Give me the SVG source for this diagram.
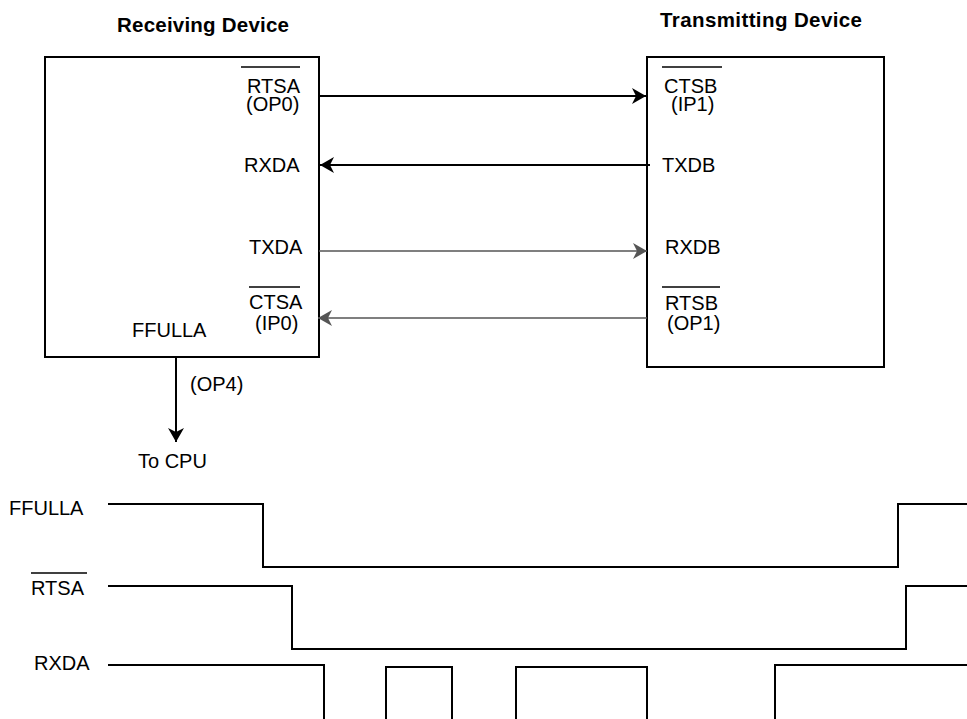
<svg xmlns="http://www.w3.org/2000/svg" width="967" height="719" viewBox="0 0 967 719">
<style>
.t{font-family:"Liberation Sans",Arial,sans-serif;font-size:20px;fill:#000}
.b{font-family:"Liberation Sans",Arial,sans-serif;font-size:20.5px;font-weight:bold;fill:#000}
.box{fill:#fff;stroke:#000;stroke-width:2}
.ov{stroke:#000;stroke-width:1.5}
.k{stroke:#000;stroke-width:2;fill:none}
.g{stroke:#555;stroke-width:1.6;fill:none}
.sig{stroke:#000;stroke-width:2;fill:none;stroke-linejoin:miter}
</style>
<defs>
<marker id="ak" markerUnits="userSpaceOnUse" markerWidth="16" markerHeight="18" refX="14" refY="8" orient="auto" viewBox="0 0 16 16">
<path d="M0,0 L14,8 L0,16 L4,8 Z" fill="#000"/>
</marker>
<marker id="ag" markerUnits="userSpaceOnUse" markerWidth="16" markerHeight="18" refX="14" refY="8" orient="auto" viewBox="0 0 16 16">
<path d="M0,0 L14,8 L0,16 L4,8 Z" fill="#555"/>
</marker>
</defs>
<rect width="967" height="719" fill="#fff"/>

<g id="receiving-device">
<text class="b" x="117" y="32" textLength="172">Receiving Device</text>
<rect class="box" x="45" y="57" width="274" height="300"/>
<line class="ov" x1="241" y1="67" x2="300" y2="67"/>
<text class="t" x="247" y="93">RTSA</text>
<text class="t" x="246" y="111">(OP0)</text>
<text class="t" x="244" y="172">RXDA</text>
<text class="t" x="249" y="254">TXDA</text>
<line class="ov" x1="249" y1="287" x2="300" y2="287"/>
<text class="t" x="249" y="309">CTSA</text>
<text class="t" x="255" y="330">(IP0)</text>
<text class="t" x="132" y="337">FFULLA</text>
</g>

<g id="transmitting-device">
<text class="b" x="660" y="27" textLength="202">Transmitting Device</text>
<rect class="box" x="647" y="57" width="237" height="310"/>
<line class="ov" x1="662" y1="67" x2="722" y2="67"/>
<text class="t" x="664" y="93">CTSB</text>
<text class="t" x="671" y="111">(IP1)</text>
<text class="t" x="662" y="172">TXDB</text>
<text class="t" x="665" y="254">RXDB</text>
<line class="ov" x1="662" y1="287" x2="720" y2="287"/>
<text class="t" x="665" y="310">RTSB</text>
<text class="t" x="667" y="330">(OP1)</text>
</g>

<g id="cpu-output">
<text class="t" x="190" y="391">(OP4)</text>
<text class="t" x="138" y="468">To CPU</text>
</g>

<g id="connectors">
<line class="k" x1="319" y1="96" x2="646" y2="96" marker-end="url(#ak)"/>
<line class="k" x1="650" y1="165" x2="320" y2="165" marker-end="url(#ak)"/>
<line class="g" x1="319" y1="251" x2="647" y2="251" marker-end="url(#ag)"/>
<line class="g" x1="647" y1="318" x2="318" y2="318" marker-end="url(#ag)"/>
<line class="k" x1="176" y1="357" x2="176" y2="442" marker-end="url(#ak)"/>
</g>

<g id="timing">
<text class="t" x="9" y="515">FFULLA</text>
<line class="ov" x1="31" y1="573" x2="87" y2="573"/>
<text class="t" x="31" y="595">RTSA</text>
<text class="t" x="34" y="670">RXDA</text>
<polyline class="sig" points="108,504 263,504 263,567 898,567 898,504 967,504"/>
<polyline class="sig" points="108,586 292,586 292,649 906,649 906,586 967,586"/>
<polyline class="sig" points="108,665 324,665 324,720"/>
<polyline class="sig" points="386,720 386,667 452,667 452,720"/>
<polyline class="sig" points="516,720 516,667 647,667 647,720"/>
<polyline class="sig" points="775,720 775,665 967,665"/>
</g>
</svg>
